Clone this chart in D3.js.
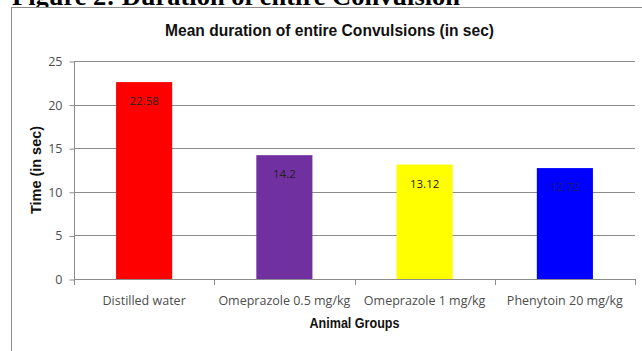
<!DOCTYPE html>
<html><head><meta charset="utf-8">
<script src="https://cdn.jsdelivr.net/npm/d3@7"></script>
<style>html,body{margin:0;padding:0;background:#fff;overflow:hidden}</style>
</head><body>
<svg id="c" width="642" height="351"></svg>
<script>
const categories = ["Distilled water","Omeprazole 0.5 mg/kg","Omeprazole 1 mg/kg","Phenytoin 20 mg/kg"];
const values = [22.58, 14.2, 13.12, 12.72];
const valueLabels = ["22.58","14.2","13.12","12.72"];
const barColors = ["#ff0000","#7030a0","#ffff00","#0000ff"];
const yTicks = [0,5,10,15,20,25];

(function(){
const svg = d3.select("#c");
svg.append("text").attr("x",12).attr("y",5)
  .attr("font-family","Liberation Serif, Times New Roman, serif").attr("font-weight","bold")
  .attr("font-size",26).attr("fill","#000")
  .attr("textLength",448).attr("lengthAdjust","spacingAndGlyphs")
  .text("Figure 2: Duration of entire Convulsion");
svg.append("rect").attr("x",11.5).attr("y",7.5).attr("width",700).attr("height",400)
  .attr("fill","#fff").attr("stroke","#8c8c8c").attr("stroke-width",1);

const pL=74, pR=635, pT=61, pB=279;
const x = d3.scaleBand().domain(categories).range([pL,pR]).paddingInner(0.6).paddingOuter(0.3);
const y = d3.scaleLinear().domain([0,25]).range([pB,pT]);

svg.append("g").selectAll("line").data(yTicks.filter(d=>d>0)).join("line")
  .attr("x1",pL).attr("x2",pR).attr("y1",d=>Math.round(y(d))+0.5).attr("y2",d=>Math.round(y(d))+0.5)
  .attr("stroke","#8c8c8c").attr("stroke-width",1);

const ya = svg.append("g").attr("transform",`translate(${pL+0.5},0.5)`)
  .call(d3.axisLeft(y).tickValues(yTicks).tickSize(5).tickPadding(7));
ya.select(".domain").attr("stroke","#8c8c8c").attr("d",`M0,${pT}V${pB}`);
ya.selectAll(".tick line").attr("stroke","#8c8c8c");
ya.selectAll(".tick text").attr("font-family","Open Sans, sans-serif").attr("font-size",12.5).attr("fill","#4d4d4d");

svg.append("g").selectAll("rect").data(values).join("rect")
  .attr("x",(d,i)=>x(categories[i])).attr("width",x.bandwidth())
  .attr("y",d=>y(d)).attr("height",d=>y(0)-y(d))
  .attr("fill",(d,i)=>barColors[i]);

svg.append("g").selectAll("text").data(values).join("text")
  .attr("x",(d,i)=>x(categories[i])+x.bandwidth()/2).attr("y",d=>y(d)+23)
  .attr("text-anchor","middle").attr("font-family","Open Sans, sans-serif").attr("font-size",11.5)
  .attr("fill",(d,i)=> i===3 ? "#1a1a70" : "#222")
  .text((d,i)=>valueLabels[i]);

const xb = svg.append("g");
xb.append("line").attr("x1",pL).attr("x2",pR).attr("y1",pB+0.5).attr("y2",pB+0.5).attr("stroke","#8c8c8c");
const bounds = d3.range(categories.length+1).map(i=>pL + i*(pR-pL)/categories.length);
xb.selectAll("line.t").data(bounds).join("line").attr("class","t")
  .attr("x1",d=>Math.round(d)+0.5).attr("x2",d=>Math.round(d)+0.5).attr("y1",pB).attr("y2",pB+6).attr("stroke","#8c8c8c");
xb.selectAll("text").data(categories).join("text")
  .attr("x",d=>x(d)+x.bandwidth()/2).attr("y",305)
  .attr("text-anchor","middle").attr("font-family","Open Sans, sans-serif").attr("font-size",12.5).attr("fill","#4d4d4d")
  .text(d=>d);

svg.append("text").attr("x",329.5).attr("y",36).attr("text-anchor","middle")
  .attr("font-family","Liberation Sans Narrow, Arial Narrow, Liberation Sans, sans-serif").attr("font-weight","bold")
  .attr("font-size",16).attr("fill","#111")
  .attr("textLength",329).attr("lengthAdjust","spacingAndGlyphs")
  .text("Mean duration of entire Convulsions (in sec)");

svg.append("text").attr("x",(pL+pR)/2).attr("y",328).attr("text-anchor","middle")
  .attr("font-family","Liberation Sans Narrow, Arial Narrow, Liberation Sans, sans-serif").attr("font-weight","bold")
  .attr("font-size",14).attr("fill","#111").attr("textLength",90).attr("lengthAdjust","spacingAndGlyphs")
  .text("Animal Groups");
svg.append("text").attr("transform",`translate(41,${(pT+pB)/2}) rotate(-90)`).attr("text-anchor","middle")
  .attr("font-family","Liberation Sans, Arial, sans-serif").attr("font-weight","bold")
  .attr("font-size",14).attr("fill","#111").attr("textLength",88).attr("lengthAdjust","spacingAndGlyphs")
  .text("Time (in sec)");
})();
</script>
</body></html>
